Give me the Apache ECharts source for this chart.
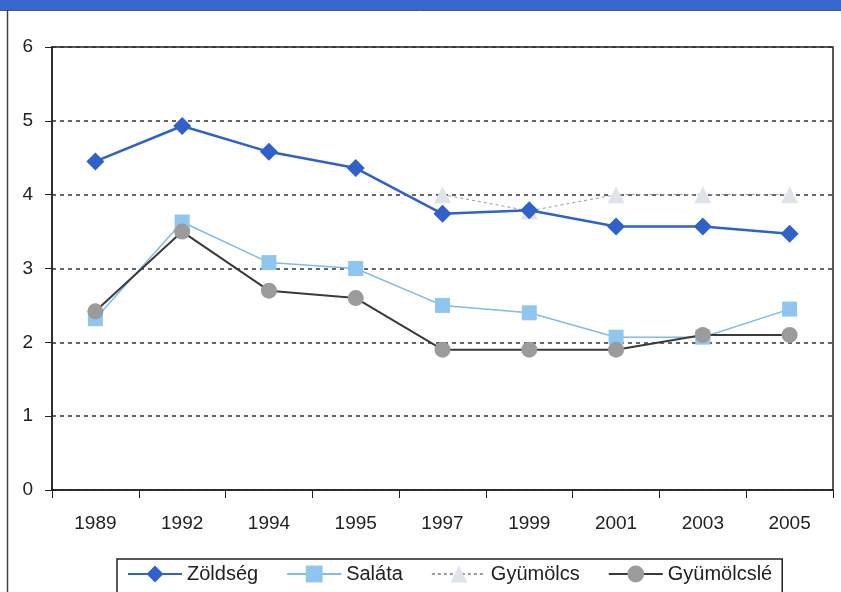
<!DOCTYPE html>
<html>
<head>
<meta charset="utf-8">
<script src="https://cdn.jsdelivr.net/npm/echarts@6/dist/echarts.min.js"></script>
<style>
  html, body { margin: 0; padding: 0; background: #fff; }
  #chart { width: 841px; height: 592px; }
</style>
</head>
<body>
<div id="chart"></div>
<script>
// years along the bottom
const years = ['1989', '1992', '1994', '1995', '1997', '1999', '2001', '2003', '2005']

// values
const zoldseg = [4.45, 4.93, 4.58, 4.36, 3.74, 3.79, 3.57, 3.57, 3.47]
const salata = [2.32, 3.63, 3.08, 3.0, 2.5, 2.4, 2.07, 2.07, 2.45]
const gyumolcs = [null, null, null, null, 4.0, 3.78, 4.0, 4.0, 4.0]
const gyumolcsle = [2.42, 3.5, 2.7, 2.6, 1.9, 1.9, 1.9, 2.1, 2.1]

const chart = echarts.init(document.getElementById('chart'))

const font = 'Liberation Sans, Arial, sans-serif'

chart.setOption({
  animation: false,
  textStyle: { fontFamily: font },
  graphic: [
    {
      type: 'rect',
      shape: { x: 0, y: 0, width: 841, height: 10 },
      style: { fill: '#3567cc' },
    },
    {
      type: 'line',
      shape: { x1: 0, y1: 10.5, x2: 841, y2: 10.5 },
      style: { stroke: '#555', lineWidth: 1 },
    },
    {
      type: 'line',
      shape: { x1: 7.5, y1: 10, x2: 7.5, y2: 592 },
      style: { stroke: '#444', lineWidth: 1.5 },
    },
  ],
  grid: {
    left: 52,
    right: 8,
    top: 47,
    bottom: 102,
    show: true,
    borderColor: '#222',
    borderWidth: 1.5,
  },
  legend: {
    left: 117,
    top: 559,
    padding: [5, 10, 18, 10],
    borderColor: '#222',
    borderWidth: 1.5,
    itemWidth: 54,
    itemHeight: 21,
    itemGap: 28,
    textStyle: { fontSize: 20, color: '#222', fontFamily: font },
    data: ['Zöldség', 'Saláta', 'Gyümölcs', 'Gyümölcslé'],
  },
  xAxis: {
    type: 'category',
    data: years,
    boundaryGap: true,
    axisLine: { lineStyle: { color: '#222', width: 1.5 } },
    axisTick: { show: true, length: 8, inside: false, lineStyle: { color: '#222' } },
    axisLabel: { fontSize: 19, color: '#222', margin: 24, fontFamily: font },
  },
  yAxis: {
    type: 'value',
    min: 0,
    max: 6,
    interval: 1,
    axisLine: { show: true, lineStyle: { color: '#222', width: 1.5 } },
    axisTick: { show: true, length: 7, lineStyle: { color: '#222' } },
    axisLabel: { fontSize: 19, color: '#222', margin: 19, fontFamily: font },
    splitLine: {
      lineStyle: { color: '#333', type: [4, 4], width: 1.5 },
    },
  },
  series: [
    {
      name: 'Zöldség',
      type: 'line',
      data: zoldseg,
      symbol: 'diamond',
      symbolSize: 18,
      itemStyle: { color: '#2f62c9' },
      lineStyle: { color: '#2f62c9', width: 2.5 },
      z: 5,
    },
    {
      name: 'Saláta',
      type: 'line',
      data: salata,
      symbol: 'rect',
      symbolSize: 15,
      itemStyle: { color: '#8ec6f0' },
      lineStyle: { color: '#7fbce8', width: 1.5 },
      z: 3,
    },
    {
      name: 'Gyümölcs',
      type: 'line',
      data: gyumolcs,
      symbol: 'triangle',
      symbolSize: 17,
      itemStyle: { color: '#dfe3ea' },
      lineStyle: { color: '#9a9a9a', width: 1, type: [3, 3] },
      z: 4,
    },
    {
      name: 'Gyümölcslé',
      type: 'line',
      data: gyumolcsle,
      symbol: 'circle',
      symbolSize: 16,
      itemStyle: { color: '#9b9b9b' },
      lineStyle: { color: '#3a3a3a', width: 2 },
      z: 4,
    },
  ],
})
</script>
</body>
</html>
